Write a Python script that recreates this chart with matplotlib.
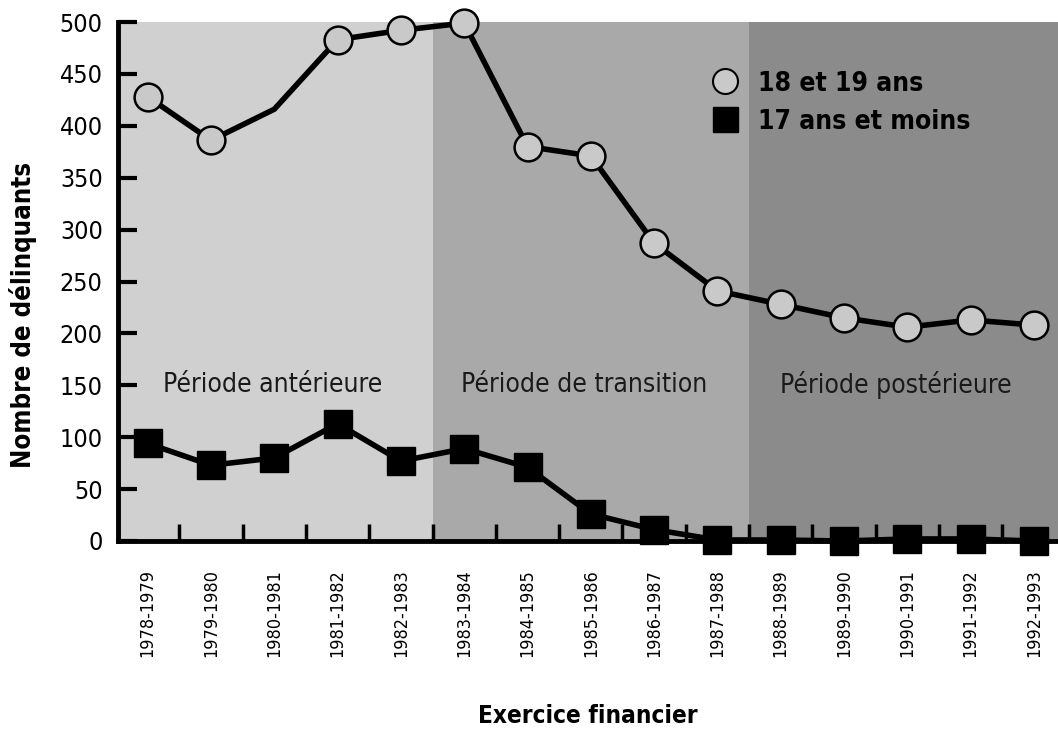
import matplotlib.pyplot as plt
from matplotlib.lines import Line2D

# exercices financiers
years = ["1978-1979", "1979-1980", "1980-1981", "1981-1982", "1982-1983",
         "1983-1984", "1984-1985", "1985-1986", "1986-1987", "1987-1988",
         "1988-1989", "1989-1990", "1990-1991", "1991-1992", "1992-1993"]
ans_18_19 = [428, 386, 416, 483, 492, 499, 380, 371, 287, 241, 228, 215, 206, 213, 208]
ans_17_moins = [94, 73, 80, 113, 77, 89, 71, 26, 11, 1, 1, 0, 2, 2, 0]
periods = ["Période antérieure", "Période de transition", "Période postérieure"]
period_bounds = [(-0.5, 4.5), (4.5, 9.5), (9.5, 14.5)]
period_colors = ["#d0d0d0", "#a9a9a9", "#8b8b8b"]

plt.rcParams['font.family'] = ["DejaVu Sans"]
plt.rcParams['font.stretch'] = "condensed"

fig = plt.figure(figsize=(10.58, 7.46), dpi=100)
ax = fig.add_axes([0.1115, 0.2748, 0.8885, 0.6957])

for (a, b), c in zip(period_bounds, period_colors):
    ax.axvspan(a, b, color=c, lw=0, zorder=0)

x = list(range(len(years)))
ax.plot(x, ans_18_19, color="black", lw=4, zorder=3, clip_on=False)
# no marker drawn for 1980-1981 in the source
circle_idx = [i for i in x if i != 2]
ax.plot(x, ans_18_19, ls="none", marker="o", markersize=20, markevery=circle_idx,
        markerfacecolor="#c9c9c9", markeredgecolor="black", markeredgewidth=1.8,
        zorder=4, clip_on=False)
ax.plot(x, ans_17_moins, color="black", lw=4, marker="s", markersize=20,
        markerfacecolor="black", markeredgecolor="black", zorder=4, clip_on=False)

label_x = [1.97, 6.9, 11.82]
for lx, txt in zip(label_x, periods):
    ax.text(lx, 150, txt, ha="center", va="center", fontsize=19, color="#1a1a1a",
            fontstretch="condensed")

handles = [Line2D([], [], ls="none", marker="o", markersize=18, markerfacecolor="#c9c9c9",
                  markeredgecolor="black", markeredgewidth=1.5),
           Line2D([], [], ls="none", marker="s", markersize=18, color="black")]
ax.legend(handles, ["18 et 19 ans", "17 ans et moins"], loc="upper left",
          bbox_to_anchor=(0.592, 0.952), frameon=False, handletextpad=0.25,
          labelspacing=0.45, prop={"weight": "bold", "size": 19, "stretch": "condensed"})

ax.set_xlim(-0.47, 14.38)
ax.set_ylim(0, 500)
ax.set_yticks(range(0, 501, 50))
ax.set_xticks(x)
ax.set_xticklabels(years, rotation=90, fontsize=13)
ax.set_xticks([i + 0.5 for i in range(14)], minor=True)
ax.tick_params(axis="x", which="major", length=0, pad=20)
ax.tick_params(axis="x", which="minor", direction="in", length=12, width=2.5)
ax.tick_params(axis="y", direction="in", length=14, width=3, labelsize=18, pad=11)

for s in ["top", "right"]:
    ax.spines[s].set_visible(False)
for s in ["left", "bottom"]:
    ax.spines[s].set_linewidth(3.5)

ax.set_ylabel("Nombre de délinquants", fontsize=18.5, fontweight="bold")
ax.yaxis.set_label_coords(-0.086, 0.435)
ax.set_xlabel("Exercice financier", fontsize=17.5, fontweight="bold", labelpad=34)

fig.savefig("out.png", dpi=100)
